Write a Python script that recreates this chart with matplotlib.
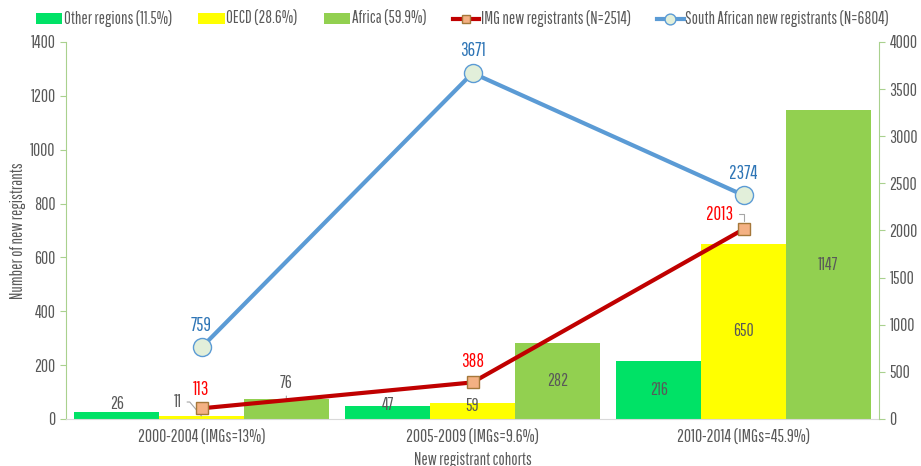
import matplotlib.pyplot as plt
import numpy as np

plt.rcParams['font.family'] = ['Pathway Gothic One', 'Roboto Condensed', 'DejaVu Sans']

cohorts = ['2000-2004 (IMGs=13%)', '2005-2009 (IMGs=9.6%)', '2010-2014 (IMGs=45.9%)']
other_regions = [26, 47, 216]
oecd = [11, 59, 650]
africa = [76, 282, 1147]
img_new = [113, 388, 2013]
sa_new = [759, 3671, 2374]

TXT = '#595959'
AX_GREEN = '#A9D18E'
FS = 12.5

fig = plt.figure(figsize=(9.21, 4.66), dpi=100)
ax = fig.add_axes([0.0717, 0.1009, 0.8827, 0.809])
ax2 = ax.twinx()

x = np.arange(len(cohorts))
w = 0.313
b1 = ax.bar(x - w, other_regions, w, color='#00E266', label='Other regions (11.5%)')
b2 = ax.bar(x, oecd, w, color='#FFFF00', label='OECD (28.6%)')
b3 = ax.bar(x + w, africa, w, color='#92D050', label='Africa (59.9%)')

l1, = ax2.plot(x, img_new, color='#C00000', lw=3, marker='s', ms=9,
               mfc='#F4B183', mec='#A5783A', mew=1, label='IMG new registrants (N=2514)')
l2, = ax2.plot(x, sa_new, color='#5B9BD5', lw=3, marker='o', ms=13,
               mfc='#E2EFDA', mec='#5B9BD5', mew=1, label='South African new registrants (N=6804)')

ax.set_xlim(-0.5, 2.5)
ax.set_ylim(0, 1400)
ax.set_yticks(range(0, 1401, 200))
ax2.set_ylim(0, 4000)
ax2.set_yticks(range(0, 4001, 500))

for a in (ax, ax2):
    for s in a.spines.values():
        s.set_visible(False)
    a.tick_params(axis='y', colors=AX_GREEN, labelcolor=TXT, labelsize=FS, length=4)
ax.spines['left'].set_visible(True)
ax.spines['left'].set_color(AX_GREEN)
ax2.spines['right'].set_visible(True)
ax2.spines['right'].set_color(AX_GREEN)
ax.spines['bottom'].set_visible(True)
ax.spines['bottom'].set_color('#D9D9D9')
ax.set_xticks(x)
ax.set_xticklabels(cohorts)
ax.tick_params(axis='x', length=0, labelcolor=TXT, labelsize=FS, pad=8)

ax.set_ylabel('Number of new registrants', color=TXT, fontsize=12, labelpad=3)
ax.set_xlabel('New registrant cohorts', color=TXT, fontsize=12, labelpad=4)


# bar value labels, offset in pixels from the bar top (None = centred in bar)
def bar_labels(xs, vals, offsets):
    for xi, v, off in zip(xs, vals, offsets):
        if off is None:
            ax.text(xi, v / 2, str(v), ha='center', va='center', color=TXT, fontsize=FS)
        else:
            ax.annotate(str(v), (xi, v), xytext=(0, off), textcoords='offset pixels',
                        ha='center', va='center', color=TXT, fontsize=FS)


bar_labels(x - w, other_regions, [8, 1, None])
bar_labels(x[1:], oecd[1:], [-3, None])
bar_labels(x[1:] + w, africa[1:], [None, None])

# labels with leader lines
ax.annotate('11', (0, oecd[0]), xytext=(-20, 14), textcoords='offset pixels',
            ha='right', va='center', color=TXT, fontsize=FS,
            arrowprops=dict(arrowstyle='-', color='#A6A6A6', lw=0.8, shrinkA=2, shrinkB=0,
                            connectionstyle='angle,angleA=0,angleB=-50,rad=0'))
ax.annotate('76', (x[0] + w, africa[0]), xytext=(0, 16), textcoords='offset pixels',
            ha='center', va='center', color=TXT, fontsize=FS,
            arrowprops=dict(arrowstyle='-', color='#A6A6A6', lw=0.8, shrinkA=2, shrinkB=0))

for xi, v in zip(x, sa_new):
    ax2.annotate(str(v), (xi, v), xytext=(0, 22), textcoords='offset pixels',
                 ha='center', va='center', color='#2E75B6', fontsize=FS + 1)
for xi, v, (dx, dy) in zip(x[:2], img_new[:2], [(0, 19), (0, 21)]):
    ax2.annotate(str(v), (xi, v), xytext=(dx, dy), textcoords='offset pixels',
                 ha='center', va='center', color='#FF0000', fontsize=FS + 1)
ax2.annotate(str(img_new[2]), (x[2], img_new[2]), xytext=(-10, 15), textcoords='offset pixels',
             ha='right', va='center', color='#FF0000', fontsize=FS + 1,
             arrowprops=dict(arrowstyle='-', color='#A6A6A6', lw=0.8, shrinkA=2, shrinkB=6,
                             connectionstyle='angle,angleA=0,angleB=90,rad=0'))

fig.legend(handles=[b1, b2, b3, l1, l2], loc='upper center', bbox_to_anchor=(0.502, 1.01),
           ncol=5, frameon=False, fontsize=12, labelcolor=TXT, handlelength=1.6,
           handleheight=0.6, handletextpad=0.1, columnspacing=1.55, markerscale=0.6)

fig.savefig('out.png', dpi=100)
